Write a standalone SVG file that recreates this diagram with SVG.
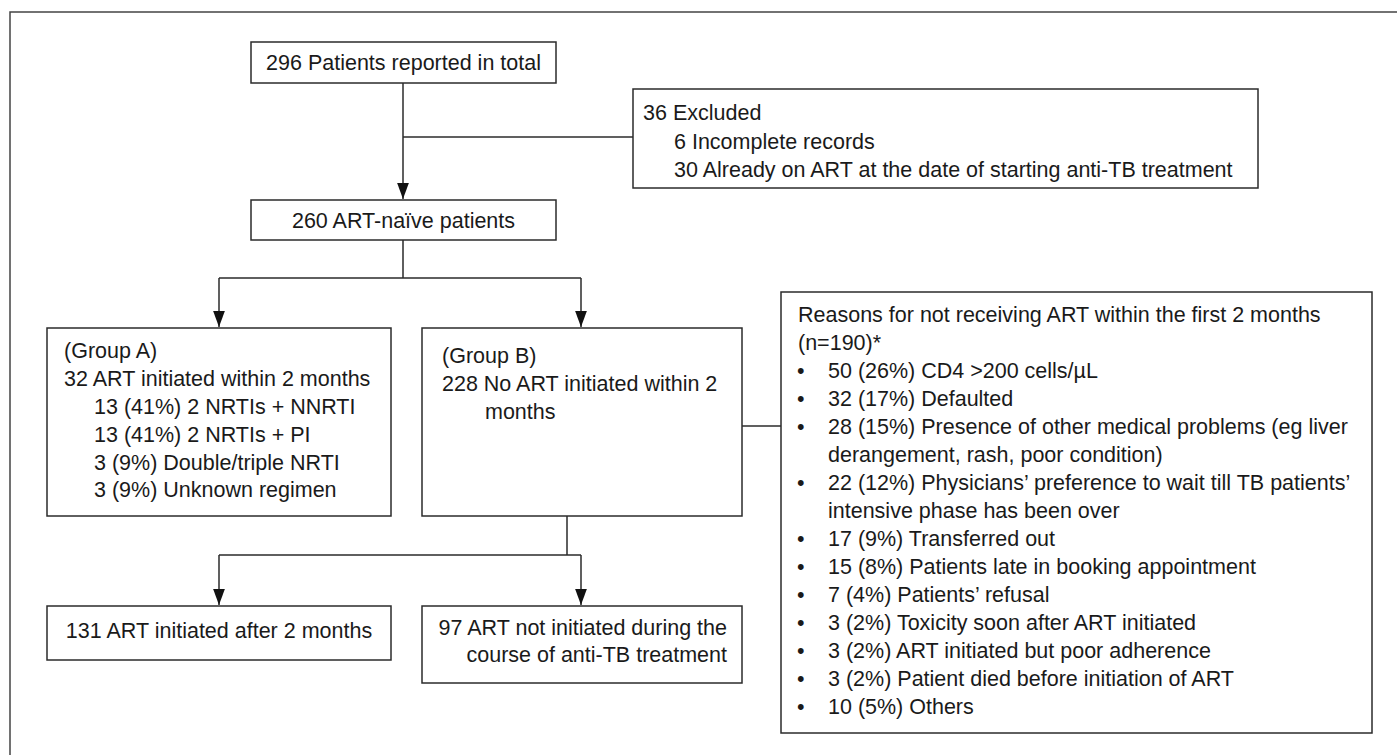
<svg xmlns="http://www.w3.org/2000/svg" width="1397" height="755" viewBox="0 0 1397 755">
<defs>
<style>
.box{fill:#fff;stroke:#2b2b2b;stroke-width:1.5}
.frame{fill:none;stroke:#444;stroke-width:1.5}
.ln{fill:none;stroke:#2b2b2b;stroke-width:1.5}
text{font-family:"Liberation Sans",Arial,Helvetica,sans-serif;font-size:21.5px;fill:#1a1a1a}
.c{text-anchor:middle}
.e{text-anchor:end}
</style>
<marker id="ah" markerUnits="userSpaceOnUse" markerWidth="12" markerHeight="16" refX="5.5" refY="15" orient="0" viewBox="0 0 11 15">
<path d="M0,0 L11,0 L5.5,15 z" fill="#111"/>
</marker>
</defs>
<rect width="1397" height="755" fill="#fff"/>
<rect class="frame" x="10" y="12" width="1400" height="760"/>

<g id="connectors">
<path class="ln" d="M403,83 V199" marker-end="url(#ah)"/>
<path class="ln" d="M403,137 H633"/>
<path class="ln" d="M403,240 V278 M219,278 H581"/>
<path class="ln" d="M219,278 V327" marker-end="url(#ah)"/>
<path class="ln" d="M581,278 V327" marker-end="url(#ah)"/>
<path class="ln" d="M567,516 V555 M219,555 H581"/>
<path class="ln" d="M219,555 V605" marker-end="url(#ah)"/>
<path class="ln" d="M581,555 V605" marker-end="url(#ah)"/>
<path class="ln" d="M742,426 H781"/>
</g>

<g id="n-total">
<rect class="box" x="251" y="42" width="305" height="41"/>
<text class="c" x="403.5" y="70">296 Patients reported in total</text>
</g>

<g id="n-excluded">
<rect class="box" x="633" y="89" width="625" height="99"/>
<text x="643" y="120">36 Excluded</text>
<text x="674" y="148.5">6 Incomplete records</text>
<text x="674" y="177">30 Already on ART at the date of starting anti-TB treatment</text>
</g>

<g id="n-naive">
<rect class="box" x="251" y="200" width="305" height="40"/>
<text class="c" x="403.5" y="227.5">260 ART-naïve patients</text>
</g>

<g id="n-groupA">
<rect class="box" x="47" y="328" width="344" height="188"/>
<text x="64" y="358">(Group A)</text>
<text x="64" y="386">32 ART initiated within 2 months</text>
<text x="94" y="414">13 (41%) 2 NRTIs + NNRTI</text>
<text x="94" y="442">13 (41%) 2 NRTIs + PI</text>
<text x="94" y="469.5">3 (9%) Double/triple NRTI</text>
<text x="94" y="497">3 (9%) Unknown regimen</text>
</g>

<g id="n-groupB">
<rect class="box" x="422" y="328" width="320" height="188"/>
<text x="442" y="363">(Group B)</text>
<text x="442" y="391">228 No ART initiated within 2</text>
<text x="485" y="418.5">months</text>
</g>

<g id="n-reasons">
<rect class="box" x="781" y="292" width="591" height="441"/>
<text x="798" y="322">Reasons for not receiving ART within the first 2 months</text>
<text x="798" y="350">(n=190)*</text>
<g>
<text x="797" y="378">•</text><text x="828" y="378">50 (26%) CD4 &gt;200 cells/µL</text>
<text x="797" y="406">•</text><text x="828" y="406">32 (17%) Defaulted</text>
<text x="797" y="434">•</text><text x="828" y="434">28 (15%) Presence of other medical problems (eg liver</text>
<text x="828" y="462">derangement, rash, poor condition)</text>
<text x="797" y="490">•</text><text x="828" y="490">22 (12%) Physicians’ preference to wait till TB patients’</text>
<text x="828" y="518">intensive phase has been over</text>
<text x="797" y="546">•</text><text x="828" y="546">17 (9%) Transferred out</text>
<text x="797" y="574">•</text><text x="828" y="574">15 (8%) Patients late in booking appointment</text>
<text x="797" y="602">•</text><text x="828" y="602">7 (4%) Patients’ refusal</text>
<text x="797" y="630">•</text><text x="828" y="630">3 (2%) Toxicity soon after ART initiated</text>
<text x="797" y="658">•</text><text x="828" y="658">3 (2%) ART initiated but poor adherence</text>
<text x="797" y="686">•</text><text x="828" y="686">3 (2%) Patient died before initiation of ART</text>
<text x="797" y="714">•</text><text x="828" y="714">10 (5%) Others</text>
</g>
</g>

<g id="n-after">
<rect class="box" x="47" y="606" width="344" height="54"/>
<text class="c" x="219" y="638">131 ART initiated after 2 months</text>
</g>

<g id="n-notinit">
<rect class="box" x="422" y="606" width="320" height="77"/>
<text class="e" x="727" y="635">97 ART not initiated during the</text>
<text class="e" x="727" y="662">course of anti-TB treatment</text>
</g>
</svg>
